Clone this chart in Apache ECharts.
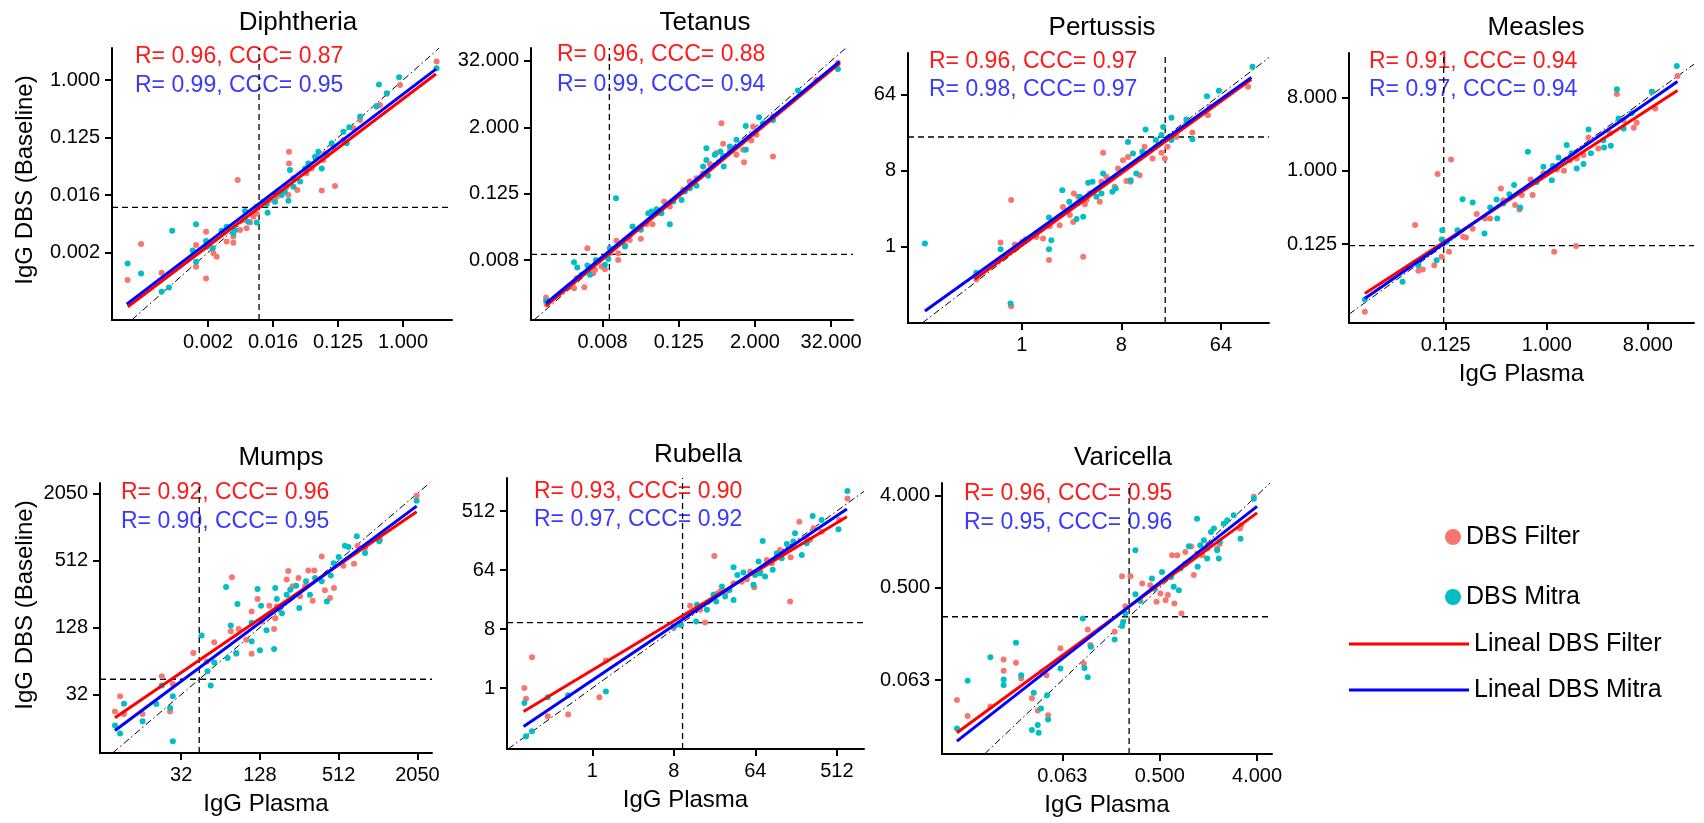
<!DOCTYPE html>
<html><head><meta charset="utf-8">
<script src="https://cdn.jsdelivr.net/npm/echarts@6/dist/echarts.min.js"></script>
<style>html,body{margin:0;padding:0;background:#fff}#c{width:1704px;height:823px}</style>
</head><body><div id="c"></div>
<script>
// All point values are log2(IgG): [log2(plasma), log2(DBS baseline)]
const titles = ['Diphtheria','Tetanus','Pertussis','Measles','Mumps','Rubella','Varicella'];
const statsFilter = ['R= 0.96, CCC= 0.87','R= 0.96, CCC= 0.88','R= 0.96, CCC= 0.97','R= 0.91, CCC= 0.94','R= 0.92, CCC= 0.96','R= 0.93, CCC= 0.90','R= 0.96, CCC= 0.95'];
const statsMitra  = ['R= 0.99, CCC= 0.95','R= 0.99, CCC= 0.94','R= 0.98, CCC= 0.97','R= 0.97, CCC= 0.94','R= 0.90, CCC= 0.95','R= 0.97, CCC= 0.92','R= 0.95, CCC= 0.96'];
const cutoffs = [0.01, 0.01, 20, 0.12, 44, 10, 0.26]; // protective thresholds (IgG units)

const diphTicks = [-9,-6,-3,0];   const diphLabels = ['0.002','0.016','0.125','1.000'];
const tetTicks  = [-7,-3,1,5];    const tetLabels  = ['0.008','0.125','2.000','32.000'];
const pertTicks = [0,3,6];        const pertLabels = ['1','8','64'];
const measTicks = [-3,0,3];       const measLabels = ['0.125','1.000','8.000'];
const mumpsTicks= [5,7,9,11];     const mumpsLabels= ['32','128','512','2050'];
const rubTicks  = [0,3,6,9];      const rubLabels  = ['1','8','64','512'];
const varTicks  = [-4,-1,2];      const varLabels  = ['0.063','0.500','4.000'];

const diphFilter = [[-12.71,-10.43],[-12.09,-8.56],[-11.14,-10.05],[-9.55,-8.61],[-9.55,-9.74],[-9.09,-7.91],[-9.09,-10.35],[-8.6,-9.22],[-7.83,-8.49],[-7.63,-5.22],[-7.52,-7.83],[-7.22,-7.74],[-7.06,-7.44],[-6.75,-6.96],[-6.29,-6.35],[-5.83,-6.09],[-5.6,-5.83],[-5.29,-6.0],[-5.26,-3.74],[-5.26,-4.35],[-5.06,-5.13],[-4.88,-5.74],[-4.45,-4.87],[-4.22,-4.61],[-3.75,-5.77],[-3.68,-4.17],[-3.6,-3.83],[-3.14,-5.53],[-3.22,-3.48],[-2.75,-3.13],[-1.98,-2.09],[-1.22,-1.39],[-1.06,-1.3],[-0.14,-0.26],[1.55,0.96],[-8.75,-9.04],[-8.14,-8.43],[-7.29,-7.3],[-6.91,-7.13],[-6.14,-6.26],[-3.98,-4.0],[-2.29,-2.52],[-0.75,-0.7],[-7.83,-8.17],[-5.37,-5.57]];
const diphMitra = [[-12.71,-9.57],[-12.09,-10.09],[-11.14,-11.04],[-10.8,-10.82],[-10.65,-7.86],[-9.71,-8.9],[-9.55,-9.48],[-9.55,-7.53],[-9.09,-8.4],[-8.78,-8.78],[-8.37,-7.86],[-8.14,-7.65],[-7.75,-7.83],[-7.29,-6.83],[-7.14,-7.39],[-6.75,-7.44],[-6.75,-6.61],[-6.45,-6.35],[-6.29,-6.47],[-6.25,-6.92],[-5.91,-6.35],[-5.6,-6.0],[-5.29,-6.3],[-5.22,-4.7],[-5.06,-5.57],[-4.75,-5.3],[-4.52,-4.61],[-4.37,-4.35],[-3.91,-3.74],[-3.75,-4.61],[-3.52,-3.91],[-3.29,-3.3],[-2.75,-2.7],[-2.6,-3.3],[-2.48,-2.47],[-1.98,-1.91],[-1.22,-1.36],[-1.11,-0.23],[-0.75,-0.7],[-0.18,0.14],[1.55,0.61],[-5.45,-5.83],[-4.06,-4.0],[-7.83,-8.0],[-9.06,-8.7]];

const tetFilter = [[-9.97,-9.25],[-9.94,-9.65],[-8.5,-8.69],[-8.36,-8.08],[-7.96,-8.63],[-7.8,-6.28],[-7.4,-7.58],[-6.88,-7.54],[-6.62,-6.58],[-6.27,-5.82],[-6.18,-6.98],[-6.18,-6.58],[-5.83,-6.08],[-4.99,-5.71],[-4.69,-4.83],[-4.38,-4.83],[-3.77,-3.47],[-3.47,-3.77],[-2.77,-2.76],[-2.42,-2.26],[-1.72,-1.76],[-1.37,-1.2],[-0.76,1.25],[-0.67,0.01],[-0.32,-0.45],[0.03,-0.65],[0.43,-1.1],[0.38,-0.35],[0.81,0.21],[1.08,0.55],[1.95,-0.75],[1.95,1.65],[5.36,4.87],[-1.02,-0.55],[-2.07,-2.06],[-4.17,-4.17],[-5.57,-5.78],[-7.49,-7.78],[-7.05,-7.38],[0.9,1.05],[4.22,3.86]];
const tetMitra = [[-9.97,-9.45],[-8.5,-7.12],[-8.33,-7.44],[-8.1,-7.88],[-7.8,-7.32],[-7.66,-7.88],[-7.35,-6.98],[-6.88,-7.28],[-6.7,-6.92],[-6.62,-6.28],[-6.3,-3.27],[-5.83,-6.18],[-5.43,-4.97],[-4.99,-5.17],[-4.6,-4.17],[-4.17,-3.93],[-3.91,-4.17],[-3.47,-4.83],[-3.29,-3.47],[-2.85,-3.37],[-2.42,-2.66],[-2.07,-2.52],[-1.46,-1.92],[-1.55,-0.25],[-1.55,-0.96],[-1.11,-0.65],[-0.81,-0.45],[-0.64,-1.36],[-0.32,-0.15],[0.03,0.25],[0.52,1.09],[0.52,-0.35],[1.22,1.61],[1.43,1.25],[1.95,1.45],[3.26,3.22],[5.36,4.51],[-4.43,-4.07],[-2.68,-2.86],[-1.72,-1.36],[-0.67,-0.75]];

const pertFilter = [[-1.37,-1.29],[-0.64,0.17],[-0.32,1.84],[-0.32,-2.34],[-0.21,0.09],[0.01,0.2],[0.64,0.33],[0.82,-0.52],[0.84,0.81],[1.14,0.85],[1.24,1.57],[1.55,0.98],[1.57,2.1],[1.7,1.97],[1.85,-0.39],[1.9,1.68],[2.05,2.1],[2.35,1.77],[2.4,2.56],[2.45,3.7],[2.55,2.76],[2.8,2.36],[2.9,3.08],[3.15,2.59],[3.2,3.54],[3.28,2.56],[3.55,2.82],[3.7,3.94],[3.94,3.48],[4.21,3.7],[4.31,3.48],[4.39,3.94],[4.66,4.33],[5.14,4.5],[5.61,5.18],[5.66,5.51],[6.82,6.3],[1.45,1.25],[1.95,1.84],[0.44,0.39],[3.05,3.41],[5.01,4.92]];
const pertMitra = [[-2.92,0.13],[-1.37,-1.02],[-0.64,-0.1],[-0.34,-2.23],[0.12,0.29],[0.82,1.15],[0.82,-0.1],[0.89,0.26],[1.22,2.23],[1.43,1.77],[1.65,1.09],[1.75,1.97],[1.85,1.18],[2.0,2.52],[2.13,2.56],[2.25,1.97],[2.4,2.1],[2.73,2.17],[2.83,2.3],[3.2,4.13],[3.28,2.62],[3.35,3.67],[3.45,2.89],[3.63,3.74],[3.73,4.62],[4.04,4.2],[4.21,4.4],[4.51,5.08],[4.51,4.2],[4.96,5.01],[5.14,4.23],[5.58,5.93],[5.94,6.14],[6.95,7.09],[1.7,1.71],[2.45,2.89],[4.26,4.72]];

const measFilter = [[-5.4,-5.77],[-3.91,-2.22],[-3.81,-4.09],[-3.68,-4.04],[-3.34,-3.86],[-3.24,-0.13],[-3.12,-3.52],[-2.9,-3.31],[-2.84,0.47],[-2.48,-2.7],[-2.4,-2.73],[-2.2,-2.37],[-2.08,-1.77],[-1.83,-1.95],[-1.68,-1.95],[-1.36,-0.72],[-0.94,-1.4],[-0.81,-1.58],[-0.74,-0.99],[-0.48,-0.35],[-0.42,-0.99],[0.22,-3.31],[0.3,0.06],[0.51,0.01],[0.69,0.44],[0.87,-3.08],[0.89,0.51],[1.09,0.65],[1.24,1.37],[1.53,0.92],[2.08,3.15],[2.58,1.77],[2.67,1.97],[3.12,3.24],[3.22,2.56],[3.88,3.89],[1.88,1.54],[-1.29,-1.2],[-0.1,-0.1],[2.28,2.08]];
const measMitra = [[-5.4,-5.27],[-4.28,-4.54],[-3.81,-3.86],[-3.27,-3.66],[-3.12,-2.81],[-3.1,-2.43],[-2.97,-2.9],[-2.65,-2.43],[-2.5,-1.16],[-2.2,-1.29],[-1.85,-2.56],[-1.68,-1.5],[-1.49,-1.17],[-1.47,-1.95],[-1.29,-1.33],[-1.11,-0.96],[-0.97,-0.58],[-0.79,-1.5],[-0.56,0.78],[-0.3,-0.45],[-0.1,0.17],[0.15,-0.38],[0.18,0.2],[0.35,0.55],[0.59,1.06],[0.74,0.72],[0.89,0.1],[1.09,0.28],[1.24,1.7],[1.31,0.72],[1.7,0.96],[1.9,1.03],[2.08,3.34],[2.13,2.15],[2.28,1.74],[3.12,3.24],[3.86,4.3],[2.52,2.36],[1.68,1.26]];

const mumpsFilter = [[3.32,4.5],[3.45,4.95],[3.55,4.42],[4.02,4.42],[4.51,5.55],[4.72,4.5],[4.79,5.32],[5.84,6.56],[6.26,6.89],[6.29,8.5],[6.4,6.22],[6.46,6.96],[6.65,6.64],[6.79,7.48],[6.79,6.22],[6.94,7.85],[7.05,7.18],[7.24,7.65],[7.36,6.96],[7.39,7.28],[7.68,8.43],[7.72,8.69],[7.83,8.23],[7.98,8.48],[8.02,7.93],[8.15,8.23],[8.23,8.7],[8.34,7.8],[8.38,8.7],[8.57,9.12],[8.65,8.11],[8.78,7.88],[8.88,8.18],[9.12,8.84],[9.39,8.9],[9.48,9.44],[9.67,9.37],[10.98,10.93],[5.31,6.24],[5.65,5.99],[7.43,7.63],[10.05,9.62]];
const mumpsMitra = [[3.32,4.08],[3.45,3.84],[3.55,4.73],[4.02,4.21],[4.37,4.72],[4.51,5.27],[4.72,4.6],[4.79,4.95],[4.79,3.61],[5.52,6.76],[5.67,5.7],[5.75,5.27],[5.84,5.96],[6.14,8.21],[6.18,6.09],[6.26,7.06],[6.4,6.24],[6.43,7.7],[6.79,6.59],[6.94,8.15],[7.0,6.32],[7.03,7.65],[7.17,6.92],[7.36,6.36],[7.39,8.18],[7.43,7.85],[7.56,7.43],[7.68,7.98],[7.92,8.25],[8.0,7.58],[8.17,8.38],[8.27,7.98],[8.4,8.48],[8.57,8.38],[8.7,7.78],[8.8,8.55],[8.87,8.92],[9.0,9.1],[9.16,9.44],[9.25,9.4],[9.46,9.72],[9.67,9.22],[10.03,9.57],[10.98,10.78],[6.79,7.14],[7.77,8.13]];

const rubFilter = [[-2.5,0.0],[-2.44,-0.54],[-2.22,1.57],[-1.64,-1.44],[-0.89,-1.35],[0.26,-0.47],[0.5,1.4],[2.99,3.05],[3.6,4.18],[4.15,3.33],[4.49,6.72],[4.58,4.79],[4.93,4.91],[5.2,5.33],[5.5,5.41],[5.69,5.53],[5.96,5.13],[6.18,5.92],[6.42,6.51],[6.61,6.35],[6.79,6.68],[6.97,6.85],[7.28,4.4],[7.3,6.65],[7.4,7.19],[7.62,8.46],[7.89,7.61],[8.14,8.12],[8.44,7.95],[9.09,8.54],[9.39,9.64],[4.71,4.91],[5.81,5.92],[6.91,7.02],[8.01,7.53],[3.97,3.98]];
const rubMitra = [[-2.5,-0.76],[-2.44,-2.45],[-2.22,-2.2],[-1.64,-0.47],[-0.89,-0.37],[0.5,-0.17],[2.99,3.13],[3.26,3.21],[3.82,3.38],[3.85,4.23],[4.22,3.98],[4.56,4.4],[4.77,5.16],[4.89,4.65],[5.05,4.99],[5.2,4.48],[5.2,6.14],[5.34,5.75],[5.56,5.87],[5.93,5.25],[5.99,5.75],[6.12,6.43],[6.27,7.48],[6.36,5.67],[6.64,6.01],[6.79,6.85],[6.97,6.6],[7.16,7.33],[7.46,7.87],[7.71,6.77],[7.89,7.36],[8.11,8.75],[8.44,8.54],[9.06,8.07],[9.39,10.02],[4.46,4.74],[6.18,5.84],[7.4,7.45]];

const varFilter = [[-7.25,-4.65],[-6.92,-5.17],[-6.22,-4.86],[-5.81,-3.33],[-5.81,-3.7],[-5.43,-3.44],[-5.27,-3.95],[-4.94,-4.59],[-4.76,-4.99],[-4.63,-3.73],[-4.49,-3.84],[-4.44,-5.14],[-4.06,-2.97],[-3.34,-3.46],[-3.22,-2.36],[-3.14,-2.86],[-2.39,-2.43],[-2.16,-0.63],[-2.06,-1.6],[-1.9,-0.63],[-1.29,-0.92],[-1.1,-1.46],[-0.82,-1.41],[-0.75,-1.24],[-0.55,-1.51],[-0.33,-1.84],[-0.62,0.05],[-0.46,0.05],[-0.21,0.16],[-0.03,0.34],[0.05,-0.59],[0.31,0.05],[0.56,0.43],[0.77,0.27],[0.85,0.43],[1.47,0.92],[1.51,1.03],[1.9,1.95],[-1.54,-0.86],[-0.98,-1.19],[0.15,0.11],[0.46,0.27]];
const varMitra = [[-7.25,-5.57],[-6.92,-4.02],[-6.22,-3.26],[-5.81,-3.98],[-5.81,-4.16],[-5.43,-2.79],[-5.27,-3.84],[-4.94,-5.62],[-4.88,-4.41],[-4.76,-5.46],[-4.73,-5.71],[-4.66,-4.92],[-4.47,-4.49],[-4.44,-5.28],[-4.06,-3.62],[-3.37,-2.0],[-3.32,-3.61],[-3.22,-3.91],[-3.12,-2.92],[-2.39,-2.68],[-2.16,-2.24],[-2.13,-2.11],[-2.06,-1.84],[-1.75,0.22],[-1.75,-1.21],[-1.6,-1.43],[-1.24,-0.7],[-1.16,-1.03],[-0.93,-0.49],[-0.65,-0.65],[-0.57,-0.97],[-0.36,-0.38],[-0.21,-0.22],[-0.1,0.35],[0.15,1.24],[0.17,-0.32],[0.25,0.38],[0.46,-0.05],[0.58,0.81],[0.67,0.92],[0.77,0.22],[0.82,-0.05],[0.85,0.49],[0.97,1.08],[1.28,1.35],[1.49,0.59],[1.9,1.89],[-0.41,-1.08],[0.36,0.54],[1.08,1.19]];

// fitted regression lines (endpoints, log2 units)
const diphRegFilter = [[-12.7,-11.83],[1.52,0.31]],  diphRegMitra = [[-12.75,-11.69],[1.52,0.57]];
const tetRegFilter  = [[-9.97,-9.75],[5.44,4.86]],   tetRegMitra  = [[-9.97,-9.59],[5.44,4.96]];
const pertRegFilter = [[-1.42,-1.28],[6.92,6.6]],    pertRegMitra = [[-2.92,-2.53],[6.92,6.67]];
const measRegFilter = [[-5.4,-5.02],[3.88,3.29]],    measRegMitra = [[-5.4,-5.23],[3.88,3.66]];
const mumpsRegFilter= [[3.32,4.31],[10.98,10.45]],   mumpsRegMitra= [[3.32,3.93],[10.98,10.62]];
const rubRegFilter  = [[-2.53,-1.19],[9.37,8.71]],   rubRegMitra  = [[-2.53,-1.95],[9.37,9.1]];
const varRegFilter  = [[-7.25,-5.71],[2.0,1.43]],    varRegMitra  = [[-7.25,-5.98],[2.0,1.64]];

const FONT = "'Liberation Sans', Arial, Helvetica, sans-serif";
const C_FILTER = '#F8766D', C_MITRA = '#00BFC4', C_RED = '#FF0000', C_BLUE = '#0000FF';

// layout per panel: grid [left, top, width, height], axis ranges in log2 units
const panels = [
  {f:diphFilter, m:diphMitra, rf:diphRegFilter, rm:diphRegMitra, t:diphTicks, l:diphLabels, grid:[112,48,340,272], xr:[-13.43,2.26], yr:[-12.52,1.67], tp:[298,23], sp:[135,57,86], yName:75, yPad:8},
  {f:tetFilter, m:tetMitra, rf:tetRegFilter, rm:tetRegMitra, t:tetTicks, l:tetLabels, grid:[531,48,322,272], xr:[-10.76,6.15], yr:[-10.6,5.78], tp:[705,23], sp:[557,55,85]},
  {f:pertFilter, m:pertMitra, rf:pertRegFilter, rm:pertRegMitra, t:pertTicks, l:pertLabels, grid:[908,53,361,270], xr:[-3.43,7.45], yr:[-3.0,7.63], tp:[1102,28], sp:[929,62,90]},
  {f:measFilter, m:measMitra, rf:measRegFilter, rm:measRegMitra, t:measTicks, l:measLabels, grid:[1349,53,345,270], xr:[-5.87,4.37], yr:[-6.23,4.83], tp:[1536,28], sp:[1369,62,90], xName:true},
  {f:mumpsFilter, m:mumpsMitra, rf:mumpsRegFilter, rm:mumpsRegMitra, t:mumpsTicks, l:mumpsLabels, grid:[100,483,332,270], xr:[2.94,11.37], yr:[3.26,11.31], tp:[281,458], sp:[121,493,522], xName:true, yName:63, yPad:26},
  {f:rubFilter, m:rubMitra, rf:rubRegFilter, rm:rubRegMitra, t:rubTicks, l:rubLabels, grid:[507,478,357,271], xr:[-3.14,10.0], yr:[-3.1,10.68], tp:[698,455], sp:[534,492,520], xName:true},
  {f:varFilter, m:varMitra, rf:varRegFilter, rm:varRegMitra, t:varTicks, l:varLabels, grid:[942,483,330,271], xr:[-7.71,2.46], yr:[-6.4,2.4], tp:[1123,458], sp:[964,494,523], xName:true}
];

const grids = [], xAxes = [], yAxes = [], series = [], graphics = [];
panels.forEach((p, i) => {
  grids.push({left:p.grid[0], top:p.grid[1], width:p.grid[2], height:p.grid[3], containLabel:false});
  const fmt = v => { const k = p.t.findIndex(t => Math.abs(t - v) < 1e-6); return k >= 0 ? p.l[k] : ''; };
  const base = () => ({
    type:'value', gridIndex:i, splitLine:{show:false},
    axisLine:{show:true, onZero:false, lineStyle:{color:'#000', width:2}},
    axisTick:{show:true, length:7, inside:false, customValues:p.t, lineStyle:{color:'#000', width:2}},
    axisLabel:{show:true, customValues:p.t, formatter:fmt, color:'#000', fontSize:20, fontFamily:FONT, margin:12}
  });
  const xa = base(); xa.min = p.xr[0]; xa.max = p.xr[1];
  if (p.xName) { xa.name = 'IgG Plasma'; xa.nameLocation = 'middle'; xa.nameGap = 39; xa.nameTextStyle = {fontSize:24, fontFamily:FONT, color:'#000'}; }
  const ya = base(); ya.min = p.yr[0]; ya.max = p.yr[1];
  if (p.yName) { ya.name = 'IgG DBS (Baseline)'; ya.nameLocation = 'middle'; ya.nameGap = p.yName; ya.nameRotate = 90; ya.nameTextStyle = {fontSize:24, fontFamily:FONT, color:'#000', padding:[0,0,0,p.yPad||0]}; }
  xAxes.push(xa); yAxes.push(ya);

  const c = Math.log2(cutoffs[i]);
  const lo = Math.max(p.xr[0], p.yr[0]), hi = Math.min(p.xr[1], p.yr[1]);
  const common = {xAxisIndex:i, yAxisIndex:i, silent:true, animation:false};
  series.push({...common, type:'line', data:[[c, p.yr[0]],[c, p.yr[1]]], symbol:'none', lineStyle:{color:'#000', width:1.3, type:[6,4]}, z:1});
  series.push({...common, type:'line', data:[[p.xr[0], c],[p.xr[1], c]], symbol:'none', lineStyle:{color:'#000', width:1.3, type:[6,4]}, z:1});
  series.push({...common, type:'line', data:[[lo, lo],[hi, hi]], symbol:'none', lineStyle:{color:'#000', width:1, type:[7,3,1.5,3]}, z:1});
  series.push({...common, type:'scatter', name:'DBS Filter', data:p.f, symbolSize:6, itemStyle:{color:C_FILTER, opacity:1}, z:2});
  series.push({...common, type:'scatter', name:'DBS Mitra', data:p.m, symbolSize:6, itemStyle:{color:C_MITRA, opacity:1}, z:3});
  series.push({...common, type:'line', name:'Lineal DBS Filter', data:p.rf, symbol:'none', lineStyle:{color:C_RED, width:3}, itemStyle:{color:C_RED}, z:4});
  series.push({...common, type:'line', name:'Lineal DBS Mitra', data:p.rm, symbol:'none', lineStyle:{color:C_BLUE, width:3}, itemStyle:{color:C_BLUE}, z:5});

  graphics.push({type:'text', x:p.tp[0], y:p.tp[1], silent:true, style:{text:titles[i], font:'26px ' + FONT, fill:'#000', align:'center', verticalAlign:'middle'}});
  graphics.push({type:'text', x:p.sp[0], y:p.sp[1], silent:true, style:{text:statsFilter[i], font:'23px ' + FONT, fill:'#FF1A1A', align:'left', verticalAlign:'middle'}});
  graphics.push({type:'text', x:p.sp[0], y:p.sp[2], silent:true, style:{text:statsMitra[i], font:'23px ' + FONT, fill:'#3A3AFF', align:'left', verticalAlign:'middle'}});
});

const chart = echarts.init(document.getElementById('c'), null, {renderer:'canvas'});
chart.setOption({
  backgroundColor:'#fff',
  animation:false,
  grid:grids, xAxis:xAxes, yAxis:yAxes, series:series,
  graphic:graphics,
  legend:[
    {data:['DBS Filter','DBS Mitra'], orient:'vertical', left:1440, top:518, icon:'circle', itemWidth:16, itemHeight:16, itemGap:32,
     textStyle:{fontSize:25, fontFamily:FONT, color:'#000', lineHeight:28}, selectedMode:false},
    {data:['Lineal DBS Filter','Lineal DBS Mitra'], orient:'vertical', left:1344, top:625, icon:'rect', itemWidth:120, itemHeight:3, itemGap:18,
     textStyle:{fontSize:25, fontFamily:FONT, color:'#000', lineHeight:28}, selectedMode:false}
  ]
});
</script>
</body></html>
